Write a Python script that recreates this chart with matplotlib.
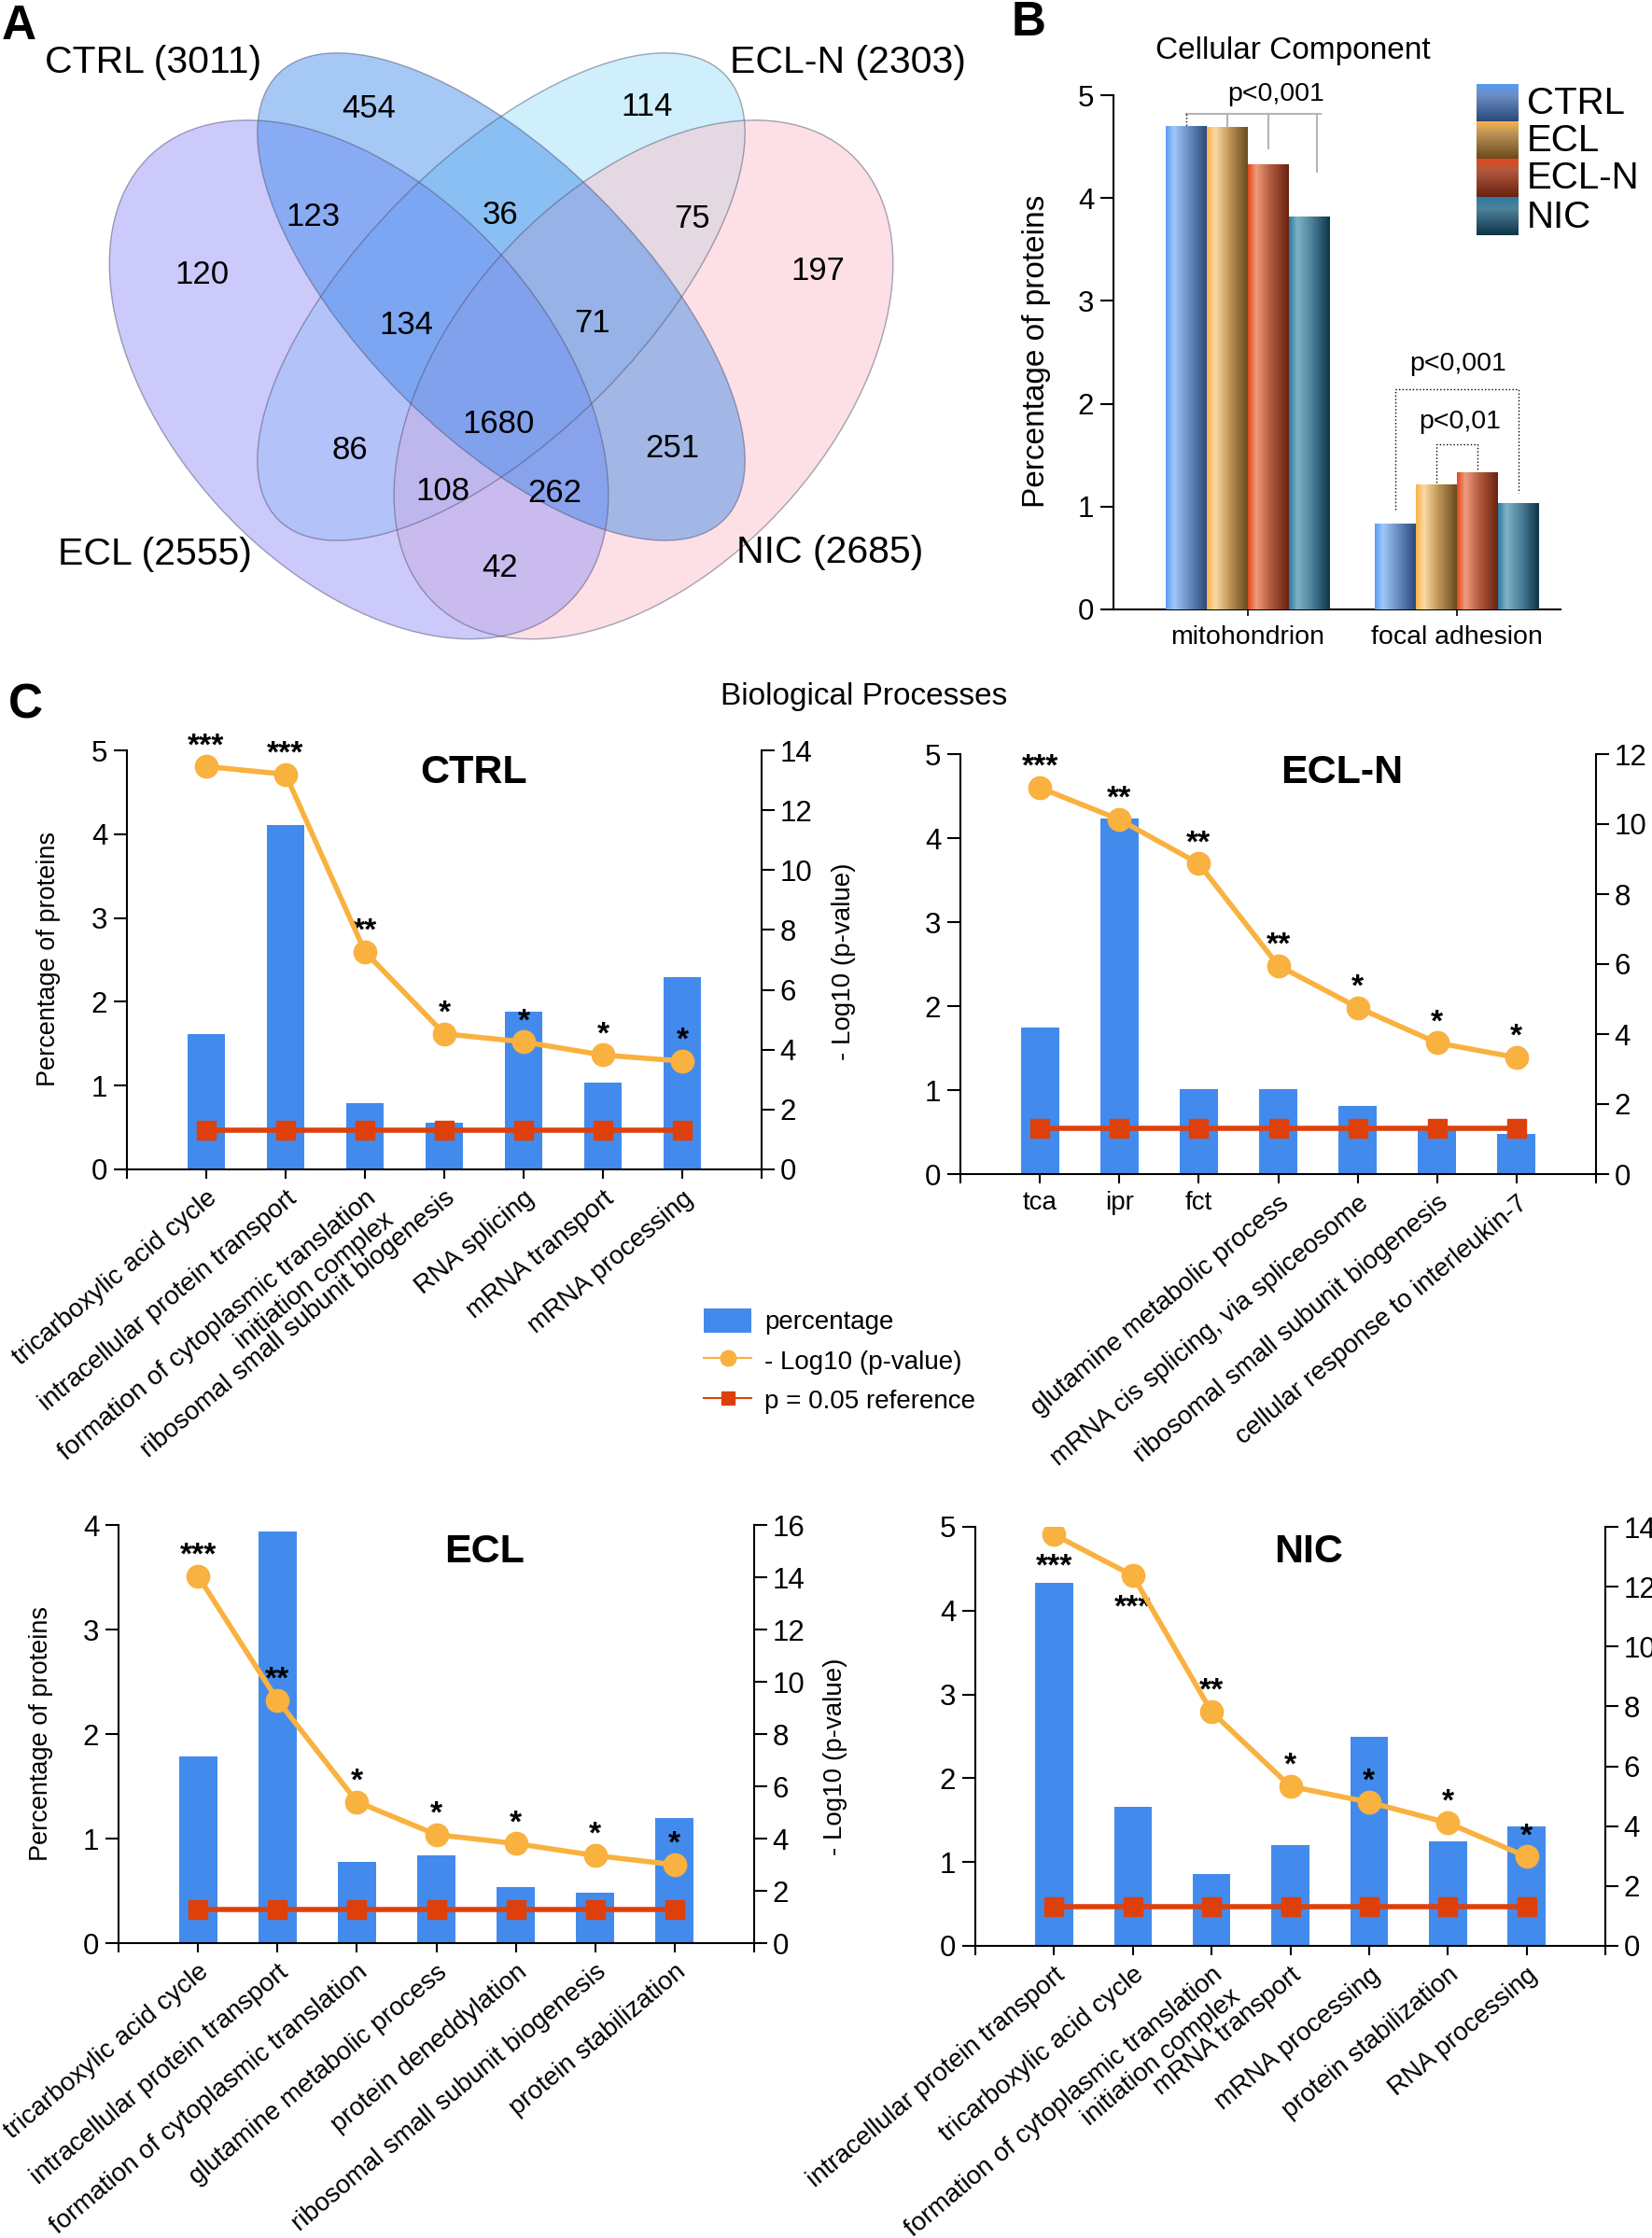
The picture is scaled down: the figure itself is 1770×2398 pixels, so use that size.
import numpy as np
import matplotlib
matplotlib.use('Agg')
import matplotlib.pyplot as plt
from matplotlib.patches import Ellipse, Patch
from matplotlib.lines import Line2D
from matplotlib.colors import LinearSegmentedColormap

plt.rcParams['font.family'] = ['Liberation Sans', 'DejaVu Sans']

# ---------------- data ----------------
venn_names = ['CTRL', 'ECL-N', 'ECL', 'NIC']
venn_totals = [3011, 2303, 2555, 2685]
venn_counts = [454, 114, 120, 197, 123, 36, 75, 134, 71, 1680, 86, 251, 108, 262, 42]

cc_categories = ['mitohondrion', 'focal adhesion']
cc_groups = ['CTRL', 'ECL', 'ECL-N', 'NIC']
cc_ctrl = [4.70, 0.83]
cc_ecl = [4.69, 1.21]
cc_ecln = [4.32, 1.325]
cc_nic = [3.82, 1.03]

ctrl_terms = ['tricarboxylic acid cycle', 'intracellular protein transport',
              'formation of cytoplasmic translation\ninitiation complex',
              'ribosomal small subunit biogenesis', 'RNA splicing',
              'mRNA transport', 'mRNA processing']
ctrl_pct = [1.61, 4.11, 0.79, 0.56, 1.88, 1.04, 2.29]
ctrl_logp = [13.46, 13.20, 7.27, 4.53, 4.26, 3.82, 3.62]
ctrl_stars = ['***', '***', '**', '*', '*', '*', '*']

ecln_terms = ['tca', 'ipr', 'fct', 'glutamine metabolic process',
              'mRNA cis splicing, via spliceosome',
              'ribosomal small subunit biogenesis',
              'cellular response to interleukin-7']
ecln_pct = [1.75, 4.23, 1.01, 1.01, 0.81, 0.55, 0.48]
ecln_logp = [11.04, 10.13, 8.87, 5.96, 4.76, 3.75, 3.33]
ecln_stars = ['***', '**', '**', '**', '*', '*', '*']

ecl_terms = ['tricarboxylic acid cycle', 'intracellular protein transport',
             'formation of cytoplasmic translation', 'glutamine metabolic process',
             'protein deneddylation', 'ribosomal small subunit biogenesis',
             'protein stabilization']
ecl_pct = [1.79, 3.94, 0.78, 0.84, 0.54, 0.48, 1.20]
ecl_logp = [14.05, 9.30, 5.41, 4.15, 3.81, 3.35, 3.00]
ecl_stars = ['***', '**', '*', '*', '*', '*', '*']

nic_terms = ['intracellular protein transport', 'tricarboxylic acid cycle',
             'formation of cytoplasmic translation\ninitiation complex',
             'mRNA transport', 'mRNA processing', 'protein stabilization',
             'RNA processing']
nic_pct = [4.33, 1.655, 0.86, 1.20, 2.50, 1.25, 1.42]
nic_logp = [13.74, 12.37, 7.82, 5.33, 4.80, 4.11, 2.98]
nic_stars = ['***', '***', '**', '*', '*', '*', '*']

ref_logp = 1.30  # -log10(0.05)

# ---------------- styles ----------------
BAR = '#428BEC'
ORANGE = '#F9B13F'
RED = '#DE400C'
W, H = 1770, 2398
fig = plt.figure(figsize=(W / 100, H / 100), dpi=100)


def px_axes(l, t, r, b, **kw):
    return fig.add_axes([l / W, 1 - b / H, (r - l) / W, (b - t) / H], **kw)


def ftext(x, y, s, **kw):
    kw.setdefault('ha', 'center')
    kw.setdefault('va', 'center')
    return fig.text(x / W, 1 - y / H, s, **kw)


# ---------------- Panel A: Venn ----------------
axv = fig.add_axes([54.5 / W, 1 - 723.25 / H, 965 / W, 723.75 / H])
axv.set_xlim(0, 1)
axv.set_ylim(0.15, 0.90)
axv.axis('off')
ell_specs = [  # drawing order: (center, width, height, angle, color, alpha)
    ((0.50, 0.57), 0.70, 0.31, 45, '#9FE1F9', 0.5),      # ECL-N
    ((0.658, 0.478), 0.68, 0.42, 47.5, '#FBC3CD', 0.5),  # NIC
    ((0.342, 0.478), 0.68, 0.42, -47.5, '#9A97F7', 0.5), # ECL
    ((0.50, 0.57), 0.70, 0.31, -45, '#3B87EB', 0.46),    # CTRL
]
for c, w, h, a, col, al in ell_specs:
    axv.add_patch(Ellipse(c, w, h, angle=a, facecolor=col, alpha=al, edgecolor='none'))
for c, w, h, a, col, al in ell_specs:
    axv.add_patch(Ellipse(c, w, h, angle=a, fill=False, edgecolor='#505070', alpha=0.5, lw=1.0))

venn_count_px = [(395, 117), (693, 115), (216, 295), (876, 290), (335, 232), (536, 231),
                 (742, 234), (435, 348), (635, 346), (534, 455), (375, 483), (720, 481),
                 (474, 527), (594, 529), (536, 609)]
for n, (x, y) in zip(venn_counts, venn_count_px):
    ftext(x, y, str(n), fontsize=25)
venn_label_px = [(164, 67), (908, 67), (166, 594), (889, 592)]
for name, tot, (x, y) in zip(venn_names, venn_totals, venn_label_px):
    ftext(x, y, f'{name} ({tot})', fontsize=29.5)

ftext(20, 28, 'A', fontsize=37, fontweight='bold')
ftext(1102, 25, 'B', fontsize=37, fontweight='bold')
ftext(27, 756, 'C', fontsize=37, fontweight='bold')

# ---------------- Panel B ----------------
grad_stops = [
    ['#5A9BF2', '#A0C8F8', '#6B8EC4', '#2B497C'],
    ['#F9B24A', '#FCDAA4', '#BF9658', '#6B4A1E'],
    ['#E2481C', '#EF9B7C', '#B25A3E', '#6A2210'],
    ['#2B7AA0', '#80B1C7', '#4E839C', '#0E3448'],
]
base_cols = ['#5A9BF2', '#F9B24A', '#E2481C', '#2B7AA0']
axb = px_axes(1193, 102, 1672, 653)
xg = np.arange(len(cc_categories))
bw = 0.196
for k, vals in enumerate([cc_ctrl, cc_ecl, cc_ecln, cc_nic]):
    cmap = LinearSegmentedColormap.from_list(
        f'g{k}', list(zip([0, 0.2, 0.55, 1.0], grad_stops[k])))
    img = cmap(np.linspace(0, 1, 128))[np.newaxis, :, :3]
    bars = axb.bar(xg + (k - 1.5) * bw, vals, width=bw, color=base_cols[k],
                   edgecolor='none', zorder=2)
    for rect in bars:
        x0, w0, h0 = rect.get_x(), rect.get_width(), rect.get_height()
        axb.imshow(img, extent=[x0, x0 + w0, 0, h0], aspect='auto', zorder=3,
                   interpolation='bilinear')
axb.set_xlim(-0.643, 1.496)
axb.set_ylim(0, 5)
axb.set_yticks(range(0, 6))
axb.set_xticks(xg)
axb.set_xticklabels(cc_categories, fontsize=20.5)
axb.tick_params(axis='y', length=10, width=1.5, labelsize=22.5, pad=5)
axb.tick_params(axis='x', length=5, width=1.2, pad=7)
for s in ['top', 'right']:
    axb.spines[s].set_visible(False)
for s in ['left', 'bottom']:
    axb.spines[s].set_linewidth(1.5)

centers = [xg[0] + (k - 1.5) * bw for k in range(4)]
# mitochondrion bracket (grey)
top_m = 4.82
axb.plot([centers[0], centers[3] + 0.055], [top_m, top_m], color='#B5B5B5', lw=1.5, zorder=4)
axb.plot([centers[0], centers[0]], [top_m, cc_ctrl[0]], color='k', lw=1, ls=':', zorder=4)
for cx, yend in zip([centers[1], centers[2], centers[3] + 0.035], [4.68, 4.48, 4.26]):
    axb.plot([cx, cx], [top_m, yend], color='#B5B5B5', lw=1.5, zorder=4)
axb.text(0.134, 5.01, 'p<0,001', fontsize=20.5, ha='center', va='center')
# focal adhesion brackets (dotted)
fc = [xg[1] + (k - 1.5) * bw for k in range(4)]
axb.plot([fc[0], fc[0], fc[3], fc[3]], [0.97, 2.14, 2.14, 1.13], color='k', lw=1, ls=':', zorder=4)
axb.plot([fc[1], fc[1], fc[2], fc[2]], [1.23, 1.61, 1.61, 1.34], color='k', lw=1, ls=':', zorder=4)
axb.text(1.004, 2.39, 'p<0,001', fontsize=20.5, ha='center', va='center')
axb.text(1.013, 1.82, 'p<0,01', fontsize=20.5, ha='center', va='center')

ftext(1385, 55, 'Cellular Component', fontsize=24)
ftext(1110, 376, 'Percentage of proteins', fontsize=24, rotation=90)

# legend for B (vertical gradients)
legax = fig.add_axes([0, 0, 1, 1], zorder=5)
legax.axis('off')
legax.patch.set_visible(False)
row_top = [90, 130, 170, 211]
row_bot = [130, 170, 211, 252]
for k, name in enumerate(cc_groups):
    cmap = LinearSegmentedColormap.from_list(
        f'v{k}', list(zip([0, 0.3, 1.0], [grad_stops[k][0], grad_stops[k][2], grad_stops[k][3]])))
    vimg = cmap(np.linspace(0, 1, 64))[:, np.newaxis, :3]
    legax.imshow(vimg, extent=[1582, 1627, row_bot[k], row_top[k]], aspect='auto',
                 interpolation='bilinear')
    legax.text(1636, (row_top[k] + row_bot[k]) / 2 + 1, name, fontsize=29, ha='left', va='center')
legax.set_xlim(0, W)
legax.set_ylim(H, 0)

# ---------------- Panel C ----------------
ftext(926, 747, 'Biological Processes', fontsize=24)


def go_panel(box, terms, pct, logp, stars, pmax, rmax, title, title_xy,
             below=(), horiz=()):
    l, t, r, b = box
    ax = px_axes(l, t, r, b)
    x = np.arange(len(terms))
    ax.bar(x, pct, width=0.48, color=BAR, zorder=2)
    ax.set_xlim(-1, len(terms))
    ax.set_ylim(0, pmax)
    ax.set_yticks(range(0, pmax + 1))
    ax.set_xticks(x)
    ax.set_xticklabels(terms, fontsize=20, rotation=40, ha='right', va='top',
                       rotation_mode='anchor')
    for i in horiz:
        lab = ax.get_xticklabels()[i]
        lab.set_rotation(0)
        lab.set_ha('center')
    ax.set_xticks([-1, len(terms)], minor=True)
    ax.tick_params(axis='x', which='both', length=7, width=1.5, pad=6)
    ax.tick_params(axis='y', length=10, width=1.5, labelsize=22.5, pad=5)
    for s in ['top', 'right']:
        ax.spines[s].set_visible(False)
    for s in ['left', 'bottom']:
        ax.spines[s].set_linewidth(1.5)
    ax2 = ax.twinx()
    ax2.set_ylim(0, rmax)
    ax2.set_yticks(range(0, rmax + 1, 2))
    ax2.tick_params(axis='y', length=10, width=1.5, labelsize=22.5, pad=4)
    for s in ['top', 'left', 'bottom']:
        ax2.spines[s].set_visible(False)
    ax2.spines['right'].set_linewidth(1.5)
    ax2.plot(x, [ref_logp] * len(x), color=RED, lw=4, marker='s', ms=14.5, zorder=3)
    ax2.plot(x, logp, color=ORANGE, lw=4, marker='o', ms=17.5, zorder=4)
    for i, (xi, yi, s) in enumerate(zip(x, logp, stars)):
        off = -31 if i in below else 9.5
        ax2.annotate(s, (xi, yi), xytext=(0, off), textcoords='offset points',
                     ha='center', va='baseline', fontsize=24, fontweight='bold')
    ftext(title_xy[0], title_xy[1], title, fontsize=31, fontweight='bold')
    return ax


go_panel((136, 804, 816, 1253), ctrl_terms, ctrl_pct, ctrl_logp, ctrl_stars, 5, 14,
         'CTRL', (508, 828))
go_panel((1029, 808, 1710, 1258), ecln_terms, ecln_pct, ecln_logp, ecln_stars, 5, 12,
         'ECL-N', (1438, 828), horiz=(0, 1, 2))
go_panel((127, 1634, 808, 2082), ecl_terms, ecl_pct, ecl_logp, ecl_stars, 4, 16,
         'ECL', (519, 1663))
go_panel((1045, 1636, 1720, 2085), nic_terms, nic_pct, nic_logp, nic_stars, 5, 14,
         'NIC', (1402, 1663), below=(0, 1))

ftext(52, 1028, 'Percentage of proteins', fontsize=19.5, rotation=90)
ftext(904, 1030, '- Log10 (p-value)', fontsize=20, rotation=90)
ftext(44, 1858, 'Percentage of proteins', fontsize=19.5, rotation=90)
ftext(895, 1882, '- Log10 (p-value)', fontsize=20, rotation=90)

handles = [Patch(facecolor=BAR, edgecolor='none'),
           Line2D([], [], color=ORANGE, lw=1.5, marker='o', ms=12),
           Line2D([], [], color=RED, lw=1.5, marker='s', ms=9.5)]
fig.legend(handles, ['percentage', '- Log10 (p-value)', 'p = 0.05 reference'],
           loc='upper left', bbox_to_anchor=(754 / W, 1 - 1402 / H), frameon=False,
           fontsize=20, handlelength=1.85, handleheight=1.05, handletextpad=0.5,
           labelspacing=0.5, borderpad=0, borderaxespad=0)

fig.savefig('out.png', dpi=100)
